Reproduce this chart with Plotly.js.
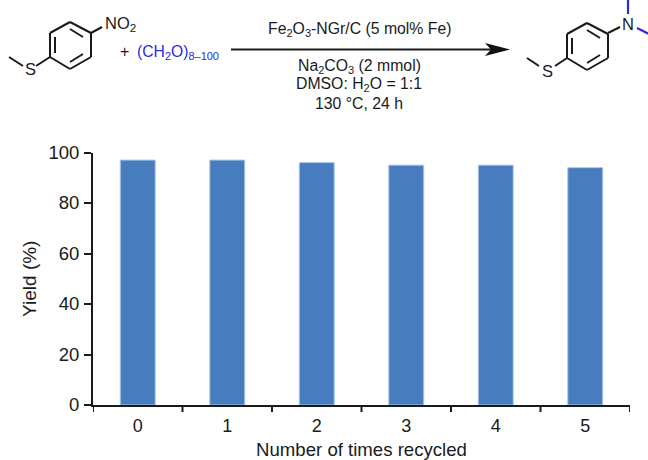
<!DOCTYPE html>
<html><head><meta charset="utf-8">
<script src="https://cdn.plot.ly/plotly-3.0.1.min.js"></script>
<style>html,body{margin:0;padding:0;background:#fff}</style></head>
<body><div id="chart" style="width:648px;height:460px"></div>
<script>
const cycles = ['0','1','2','3','4','5'];
const yieldPct = [97,97,96,95,95,94];
const yTicks = [0,20,40,60,80,100];
const W=648,H=460;
const FONT='Liberation Sans, Arial, sans-serif';
const X0=93,X1=630,Y0=405,Y1=152.5;
const px=x=>x/W, py=y=>1-y/H;
function seg(a,b,c,d,color,width){return {type:'line',xref:'paper',yref:'paper',x0:px(a),y0:py(b),x1:px(c),y1:py(d),line:{color:color||'#1a1a1a',width:width||2}};}
function label(x,y,text,size,color){return {xref:'paper',yref:'paper',x:px(x),y:py(y),text:text,showarrow:false,xanchor:'center',yanchor:'middle',font:{family:FONT,size:size||15.8,color:color||'#1a1a1a'}};}
function ring(dx,dy){
  const p=[[70,22],[91,33],[91,57],[70,69],[50,57],[50,33]].map(q=>[q[0]+dx,q[1]+dy]);
  const s=[];
  for(let i=0;i<6;i++){const a=p[i],b=p[(i+1)%6];s.push(seg(a[0],a[1],b[0],b[1]));}
  s.push(seg(55+dx,37+dy,55+dx,53+dy));
  s.push(seg(70+dx,29+dy,83+dx,37+dy));
  s.push(seg(70+dx,62+dy,83+dx,54+dy));
  return s;
}
const BLUE='#2b2be0';
const shapes=[].concat(
  ring(0,0),
  ring(517,1),
  [seg(91,33,102,27),seg(50,57,36,66),seg(9,57,23,66),
   seg(608,33,620,27),seg(567,58,555,66),seg(527,58,539,66),
   seg(628,14,628,-1,BLUE,2.2),seg(637,28,649,34,BLUE,2.2),
   seg(231,49.5,492,49.5,'#1a1a1a',2.2),
   {type:'path',xref:'paper',yref:'paper',
    path:`M ${px(485)} ${py(43)} L ${px(510)} ${py(49.5)} L ${px(485)} ${py(56)} L ${px(491)} ${py(49.5)} Z`,
    fillcolor:'#111',line:{width:0}}]
);
const annotations=[
  label(120,24,'NO<sub>2</sub>',16.5),
  label(30,69,'S',16.5),
  label(547,71,'S',16.5),
  label(628,24,'N',16.5),
  label(124,51,'+',16),
  label(178,52,'(CH<sub>2</sub>O)<sub>8–100</sub>',15.7,BLUE),
  label(359,30,'Fe<sub>2</sub>O<sub>3</sub>-NGr/C (5 mol% Fe)'),
  label(359,67,'Na<sub>2</sub>CO<sub>3</sub> (2 mmol)'),
  label(359,85,'DMSO: H<sub>2</sub>O = 1:1'),
  label(359,103,'130 °C, 24 h')
];
Plotly.newPlot('chart',[{
  type:'bar',x:cycles,y:yieldPct,
  marker:{color:'#477cbf',line:{color:'#a9c6e8',width:1}},
  hoverinfo:'skip'
}],{
  width:W,height:H,margin:{l:0,r:0,t:0,b:0},
  paper_bgcolor:'#fff',plot_bgcolor:'#fff',showlegend:false,bargap:0.61,
  font:{family:FONT,size:18,color:'#1a1a1a'},
  xaxis:{domain:[px(X0),px(X1)],type:'category',range:[-0.5,5.5],automargin:false,
    showline:true,linecolor:'#1a1a1a',linewidth:2,showgrid:false,zeroline:false,
    ticks:'',tickfont:{size:18},ticklabelstandoff:3,
    title:{text:'Number of times recycled',font:{size:18.6},standoff:14}},
  yaxis:{domain:[py(Y0),py(Y1)],range:[0,100],automargin:false,
    tickvals:yTicks,showline:true,linecolor:'#1a1a1a',linewidth:2,showgrid:false,zeroline:false,
    ticks:'outside',ticklen:7,tickwidth:2,tickcolor:'#1a1a1a',tickfont:{size:18.5},ticklabelstandoff:1,
    title:{text:'Yield (%)',font:{size:19},standoff:7}},
  shapes:shapes.concat([0,1,2,3,4,5,6].map(i=>({type:'line',xref:'x',yref:'paper',x0:i-0.5,x1:i-0.5,y0:py(Y0),y1:py(Y0+7),line:{color:'#1a1a1a',width:2}}))),
  annotations:annotations
},{displayModeBar:false,staticPlot:true});
</script></body></html>
